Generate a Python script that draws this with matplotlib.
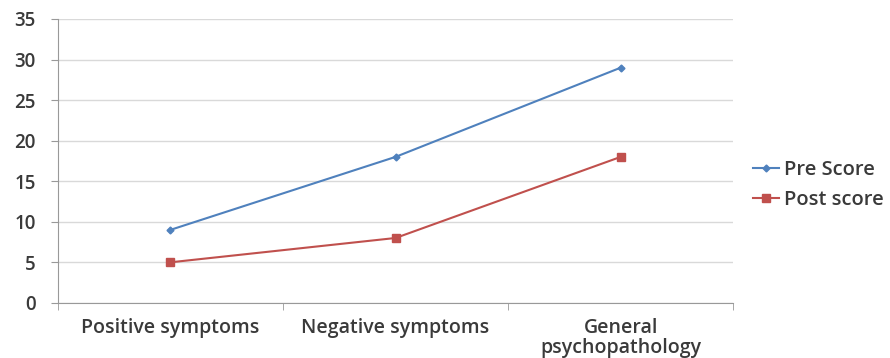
import matplotlib
matplotlib.use("Agg")
import matplotlib.pyplot as plt
import numpy as np

categories = ["Positive symptoms", "Negative symptoms", "General\npsychopathology"]
pre_score = [9, 18, 29]
post_score = [5, 8, 18]
y_ticks = [0, 5, 10, 15, 20, 25, 30, 35]

plt.rcParams['font.family'] = ['Open Sans', 'DejaVu Sans']
plt.rcParams['font.weight'] = 600

fig = plt.figure(figsize=(8.9, 3.58), dpi=100)
ax = fig.add_axes([0.065, 0.154, 0.759, 0.793])

x = np.arange(len(categories)) + 0.5
ax.plot(x, pre_score, color="#4F81BD", marker="D", markersize=3.5, linewidth=1.5, label="Pre Score")
ax.plot(x, post_score, color="#C0504D", marker="s", markersize=5.5, linewidth=1.5, label="Post score")

ax.set_xlim(0, len(categories))
ax.set_ylim(0, 35)
ax.set_yticks(y_ticks)
ax.yaxis.grid(True, color="#d9d9d9", linewidth=1)
ax.set_axisbelow(True)

ax.set_xticks(x)
ax.set_xticklabels(categories, linespacing=1.0)
ax.set_xticks(np.arange(len(categories) + 1), minor=True)
ax.tick_params(axis="x", which="major", length=0, pad=11, labelsize=14, labelcolor="#3a3a3a")
ax.tick_params(axis="x", which="minor", length=5, color="#999999", direction="out")
ax.tick_params(axis="y", length=5, color="#999999", labelsize=13.5, labelcolor="#3a3a3a", pad=11)

for s in ["top", "right"]:
    ax.spines[s].set_visible(False)
ax.spines["left"].set_color("#999999")
ax.spines["bottom"].set_color("#999999")

leg = fig.legend(loc="center left", bbox_to_anchor=(0.826, 0.482), frameon=False,
                 fontsize=14.5, handlelength=1.3, handletextpad=0.25, labelspacing=0.5)
for t in leg.get_texts():
    t.set_color("#3a3a3a")

fig.savefig("out.png", dpi=100, facecolor="white")
